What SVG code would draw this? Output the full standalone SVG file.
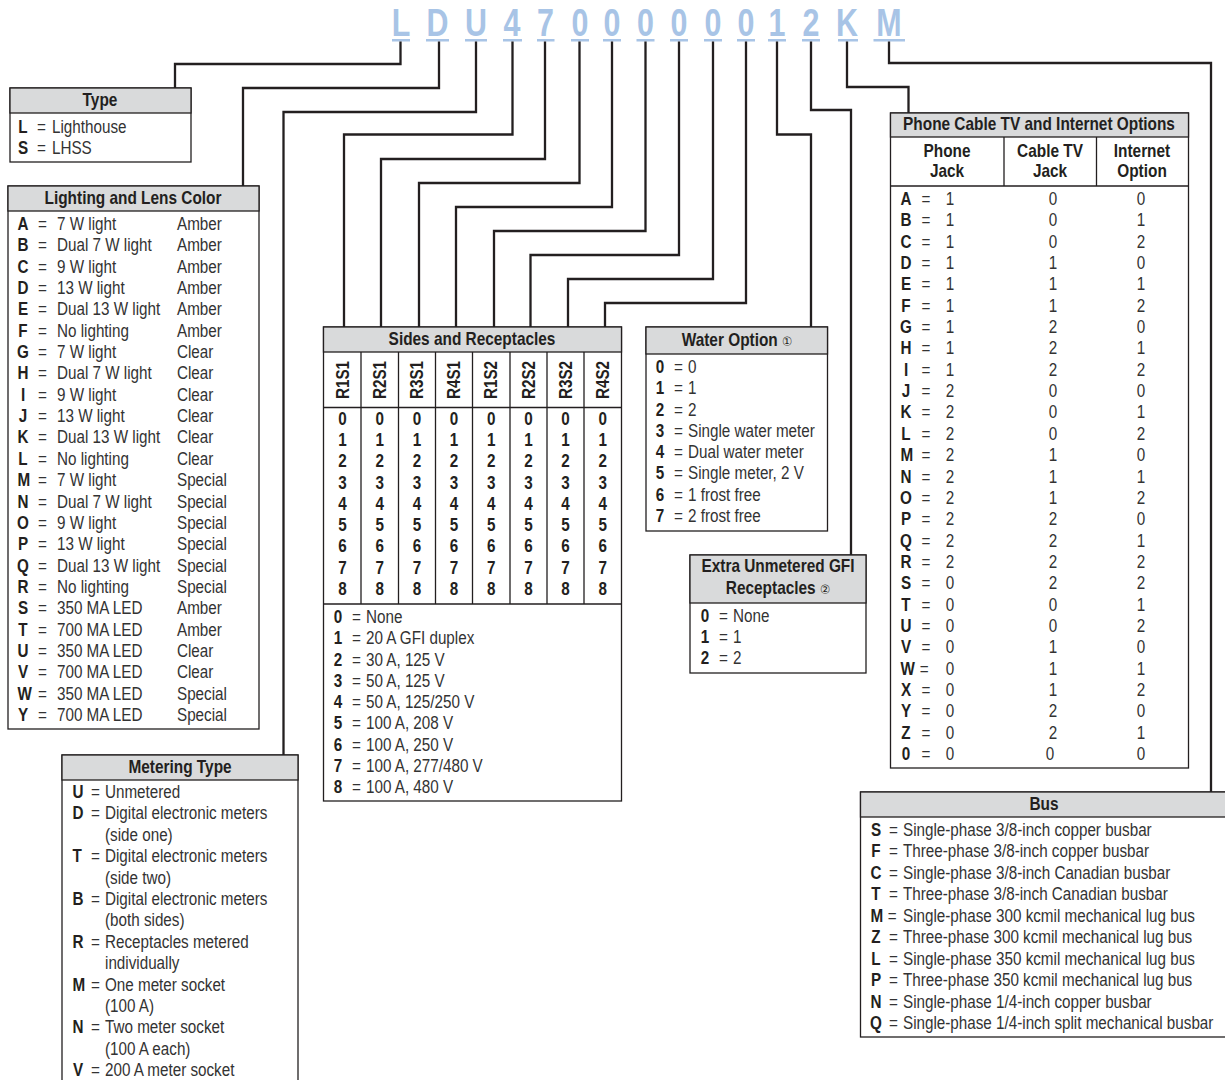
<svg xmlns="http://www.w3.org/2000/svg" width="1225" height="1080" viewBox="0 0 1225 1080">
<style>
text{font-family:"Liberation Sans",Arial,sans-serif;fill:#333;font-size:17.5px}
.b{font-weight:bold;fill:#231f20}
.h{font-weight:bold;fill:#231f20;text-anchor:middle}
.m{text-anchor:middle}
.box{fill:#fff;stroke:#231f20;stroke-width:1.3}
.hd{fill:#d9dadb;stroke:#231f20;stroke-width:1.3}
.ln{stroke:#231f20;stroke-width:1.3;fill:none}
.code{font-weight:bold;font-size:38px;fill:#a8c4e6;text-anchor:middle}
.ul{fill:#a8c4e6}
.cn{stroke:#231f20;stroke-width:2.3;fill:none}
.c{font-size:13px;font-weight:normal;font-family:"DejaVu Sans",sans-serif}
</style>

<g id="code">
<g transform="scale(0.8,1)">
<text class="code" y="36"><tspan x="501.25">L</tspan><tspan x="546.9">D</tspan><tspan x="595">U</tspan><tspan x="640">4</tspan><tspan x="681.9">7</tspan><tspan x="725">0</tspan><tspan x="765">0</tspan><tspan x="806.9">0</tspan><tspan x="848.75">0</tspan><tspan x="891.25">0</tspan><tspan x="932.5">0</tspan><tspan x="971.25">1</tspan><tspan x="1013.75">2</tspan><tspan x="1058.75">K</tspan><tspan x="1111.25">M</tspan></text>
</g>
<rect class="ul" x="392" y="39" width="18" height="2.5"/>
<rect class="ul" x="426" y="39" width="23" height="2.5"/>
<rect class="ul" x="465" y="39" width="22" height="2.5"/>
<rect class="ul" x="503" y="39" width="19" height="2.5"/>
<rect class="ul" x="537" y="39" width="17.5" height="2.5"/>
<rect class="ul" x="571" y="39" width="18" height="2.5"/>
<rect class="ul" x="603" y="39" width="18" height="2.5"/>
<rect class="ul" x="636.5" y="39" width="18" height="2.5"/>
<rect class="ul" x="670" y="39" width="18" height="2.5"/>
<rect class="ul" x="704" y="39" width="18" height="2.5"/>
<rect class="ul" x="737" y="39" width="18" height="2.5"/>
<rect class="ul" x="768" y="39" width="18" height="2.5"/>
<rect class="ul" x="802" y="39" width="18" height="2.5"/>
<rect class="ul" x="838" y="39" width="20" height="2.5"/>
<rect class="ul" x="873.5" y="39" width="31.5" height="2.5"/>
</g>

<g id="connectors">
<path class="cn" d="M400.5,41.5 V64 H175 V88"/>
<path class="cn" d="M439,41.5 V88 H243 V186"/>
<path class="cn" d="M476,41.5 V112 H283.5 V755"/>
<path class="cn" d="M512.5,41.5 V134.5 H344 V327"/>
<path class="cn" d="M545,41.5 V159 H381 V327"/>
<path class="cn" d="M579.5,41.5 V183 H419 V327"/>
<path class="cn" d="M612,41.5 V207 H456 V327"/>
<path class="cn" d="M645.5,41.5 V231 H494 V327"/>
<path class="cn" d="M679,41.5 V255 H530.5 V327"/>
<path class="cn" d="M713,41.5 V279 H568 V327"/>
<path class="cn" d="M746,41.5 V303 H605 V327"/>
<path class="cn" d="M777,41.5 V134.5 H811 V327"/>
<path class="cn" d="M811,41.5 V110 H851 V555"/>
<path class="cn" d="M847,41.5 V87 H908.5 V113"/>
<path class="cn" d="M889,41.5 V63 H1211 V792"/>
</g>

<g id="type">
<rect class="box" x="10" y="88" width="181" height="74"/>
<rect class="hd" x="10" y="88" width="181" height="25"/>
<g transform="translate(100,0) scale(0.88,1)"><text class="h" x="0" y="106">Type</text></g>
<g transform="translate(23,0) scale(0.87,1)"><text class="b m"><tspan x="0" y="133">L</tspan><tspan x="0" y="154">S</tspan></text></g>
<g transform="translate(37,0) scale(0.87,1)"><text><tspan x="0" y="133">=</tspan><tspan x="0" y="154">=</tspan></text></g>
<g transform="translate(52,0) scale(0.87,1)"><text><tspan x="0" y="133">Lighthouse</tspan><tspan x="0" y="154">LHSS</tspan></text></g>
</g>

<g id="lighting">
<rect class="box" x="8" y="186" width="251" height="543"/>
<rect class="hd" x="8" y="186" width="251" height="25"/>
<g transform="translate(133,0) scale(0.88,1)"><text class="h" x="0" y="204">Lighting and Lens Color</text></g>
<g transform="translate(23,0) scale(0.87,1)"><text class="b m"><tspan x="0" y="230">A</tspan><tspan x="0" y="251.4">B</tspan><tspan x="0" y="272.7">C</tspan><tspan x="0" y="294.1">D</tspan><tspan x="0" y="315.4">E</tspan><tspan x="0" y="336.8">F</tspan><tspan x="0" y="358.1">G</tspan><tspan x="0" y="379.5">H</tspan><tspan x="0" y="400.8">I</tspan><tspan x="0" y="422.2">J</tspan><tspan x="0" y="443.5">K</tspan><tspan x="0" y="464.9">L</tspan><tspan x="1" y="486.2">M</tspan><tspan x="0" y="507.6">N</tspan><tspan x="0" y="528.9">O</tspan><tspan x="0" y="550.3">P</tspan><tspan x="0" y="571.6">Q</tspan><tspan x="0" y="593">R</tspan><tspan x="0" y="614.3">S</tspan><tspan x="0" y="635.7">T</tspan><tspan x="0" y="657">U</tspan><tspan x="0" y="678.4">V</tspan><tspan x="2" y="699.7">W</tspan><tspan x="0" y="721.1">Y</tspan></text></g>
<g transform="translate(38,0) scale(0.87,1)"><text><tspan x="0" y="230">=</tspan><tspan x="0" y="251.4">=</tspan><tspan x="0" y="272.7">=</tspan><tspan x="0" y="294.1">=</tspan><tspan x="0" y="315.4">=</tspan><tspan x="0" y="336.8">=</tspan><tspan x="0" y="358.1">=</tspan><tspan x="0" y="379.5">=</tspan><tspan x="0" y="400.8">=</tspan><tspan x="0" y="422.2">=</tspan><tspan x="0" y="443.5">=</tspan><tspan x="0" y="464.9">=</tspan><tspan x="0" y="486.2">=</tspan><tspan x="0" y="507.6">=</tspan><tspan x="0" y="528.9">=</tspan><tspan x="0" y="550.3">=</tspan><tspan x="0" y="571.6">=</tspan><tspan x="0" y="593">=</tspan><tspan x="0" y="614.3">=</tspan><tspan x="0" y="635.7">=</tspan><tspan x="0" y="657">=</tspan><tspan x="0" y="678.4">=</tspan><tspan x="0" y="699.7">=</tspan><tspan x="0" y="721.1">=</tspan></text></g>
<g transform="translate(57,0) scale(0.87,1)"><text><tspan x="0" y="230">7 W light</tspan><tspan x="0" y="251.4">Dual 7 W light</tspan><tspan x="0" y="272.7">9 W light</tspan><tspan x="0" y="294.1">13 W light</tspan><tspan x="0" y="315.4">Dual 13 W light</tspan><tspan x="0" y="336.8">No lighting</tspan><tspan x="0" y="358.1">7 W light</tspan><tspan x="0" y="379.5">Dual 7 W light</tspan><tspan x="0" y="400.8">9 W light</tspan><tspan x="0" y="422.2">13 W light</tspan><tspan x="0" y="443.5">Dual 13 W light</tspan><tspan x="0" y="464.9">No lighting</tspan><tspan x="0" y="486.2">7 W light</tspan><tspan x="0" y="507.6">Dual 7 W light</tspan><tspan x="0" y="528.9">9 W light</tspan><tspan x="0" y="550.3">13 W light</tspan><tspan x="0" y="571.6">Dual 13 W light</tspan><tspan x="0" y="593">No lighting</tspan><tspan x="0" y="614.3">350 MA LED</tspan><tspan x="0" y="635.7">700 MA LED</tspan><tspan x="0" y="657">350 MA LED</tspan><tspan x="0" y="678.4">700 MA LED</tspan><tspan x="0" y="699.7">350 MA LED</tspan><tspan x="0" y="721.1">700 MA LED</tspan></text></g>
<g transform="translate(177,0) scale(0.87,1)"><text><tspan x="0" y="230">Amber</tspan><tspan x="0" y="251.4">Amber</tspan><tspan x="0" y="272.7">Amber</tspan><tspan x="0" y="294.1">Amber</tspan><tspan x="0" y="315.4">Amber</tspan><tspan x="0" y="336.8">Amber</tspan><tspan x="0" y="358.1">Clear</tspan><tspan x="0" y="379.5">Clear</tspan><tspan x="0" y="400.8">Clear</tspan><tspan x="0" y="422.2">Clear</tspan><tspan x="0" y="443.5">Clear</tspan><tspan x="0" y="464.9">Clear</tspan><tspan x="0" y="486.2">Special</tspan><tspan x="0" y="507.6">Special</tspan><tspan x="0" y="528.9">Special</tspan><tspan x="0" y="550.3">Special</tspan><tspan x="0" y="571.6">Special</tspan><tspan x="0" y="593">Special</tspan><tspan x="0" y="614.3">Amber</tspan><tspan x="0" y="635.7">Amber</tspan><tspan x="0" y="657">Clear</tspan><tspan x="0" y="678.4">Clear</tspan><tspan x="0" y="699.7">Special</tspan><tspan x="0" y="721.1">Special</tspan></text></g>
</g>

<g id="metering">
<rect class="box" x="62" y="755" width="236" height="340"/>
<rect class="hd" x="62" y="755" width="236" height="25"/>
<g transform="translate(180,0) scale(0.88,1)"><text class="h" x="0" y="773">Metering Type</text></g>
<g transform="translate(78,0) scale(0.87,1)"><text class="b m"><tspan x="0" y="798">U</tspan><tspan x="0" y="819.4">D</tspan><tspan x="-1" y="862.2">T</tspan><tspan x="0" y="905">B</tspan><tspan x="0" y="947.8">R</tspan><tspan x="1" y="990.6">M</tspan><tspan x="0" y="1033.4">N</tspan><tspan x="0" y="1076.2">V</tspan></text></g>
<g transform="translate(91,0) scale(0.87,1)"><text><tspan x="0" y="798">=</tspan><tspan x="0" y="819.4">=</tspan><tspan x="0" y="862.2">=</tspan><tspan x="0" y="905">=</tspan><tspan x="0" y="947.8">=</tspan><tspan x="0" y="990.6">=</tspan><tspan x="0" y="1033.4">=</tspan><tspan x="0" y="1076.2">=</tspan></text></g>
<g transform="translate(105,0) scale(0.87,1)"><text><tspan x="0" y="798">Unmetered</tspan><tspan x="0" y="819.4">Digital electronic meters</tspan><tspan x="0" y="840.8">(side one)</tspan><tspan x="0" y="862.2">Digital electronic meters</tspan><tspan x="0" y="883.6">(side two)</tspan><tspan x="0" y="905">Digital electronic meters</tspan><tspan x="0" y="926.4">(both sides)</tspan><tspan x="0" y="947.8">Receptacles metered</tspan><tspan x="0" y="969.2">individually</tspan><tspan x="0" y="990.6">One meter socket</tspan><tspan x="0" y="1012">(100 A)</tspan><tspan x="0" y="1033.4">Two meter socket</tspan><tspan x="0" y="1054.8">(100 A each)</tspan><tspan x="0" y="1076.2">200 A meter socket</tspan></text></g>
</g>

<g id="sides">
<rect class="box" x="323.5" y="327" width="298" height="474"/>
<rect class="hd" x="323.5" y="327" width="298" height="25"/>
<g transform="translate(472,0) scale(0.88,1)"><text class="h" x="0" y="345">Sides and Receptacles</text></g>
<path class="ln" d="M323.5,407.5 H621.5 M323.5,604 H621.5 M361,352 V604 M398.5,352 V604 M435.5,352 V604 M472.5,352 V604 M510,352 V604 M547,352 V604 M584,352 V604"/>
<text class="h" transform="translate(342.5,380) rotate(-90) scale(0.87,1)" x="0" y="6">R1S1</text>
<text class="h" transform="translate(379.8,380) rotate(-90) scale(0.87,1)" x="0" y="6">R2S1</text>
<text class="h" transform="translate(417,380) rotate(-90) scale(0.87,1)" x="0" y="6">R3S1</text>
<text class="h" transform="translate(454,380) rotate(-90) scale(0.87,1)" x="0" y="6">R4S1</text>
<text class="h" transform="translate(491.2,380) rotate(-90) scale(0.87,1)" x="0" y="6">R1S2</text>
<text class="h" transform="translate(528.5,380) rotate(-90) scale(0.87,1)" x="0" y="6">R2S2</text>
<text class="h" transform="translate(565.5,380) rotate(-90) scale(0.87,1)" x="0" y="6">R3S2</text>
<text class="h" transform="translate(602.8,380) rotate(-90) scale(0.87,1)" x="0" y="6">R4S2</text>
<g transform="translate(342.5,0) scale(0.87,1)"><text class="b m"><tspan x="0" y="425">0</tspan><tspan x="0" y="446.3">1</tspan><tspan x="0" y="467.5">2</tspan><tspan x="0" y="488.8">3</tspan><tspan x="0" y="510">4</tspan><tspan x="0" y="531.3">5</tspan><tspan x="0" y="552.5">6</tspan><tspan x="0" y="573.8">7</tspan><tspan x="0" y="595">8</tspan></text></g>
<g transform="translate(379.8,0) scale(0.87,1)"><text class="b m"><tspan x="0" y="425">0</tspan><tspan x="0" y="446.3">1</tspan><tspan x="0" y="467.5">2</tspan><tspan x="0" y="488.8">3</tspan><tspan x="0" y="510">4</tspan><tspan x="0" y="531.3">5</tspan><tspan x="0" y="552.5">6</tspan><tspan x="0" y="573.8">7</tspan><tspan x="0" y="595">8</tspan></text></g>
<g transform="translate(417,0) scale(0.87,1)"><text class="b m"><tspan x="0" y="425">0</tspan><tspan x="0" y="446.3">1</tspan><tspan x="0" y="467.5">2</tspan><tspan x="0" y="488.8">3</tspan><tspan x="0" y="510">4</tspan><tspan x="0" y="531.3">5</tspan><tspan x="0" y="552.5">6</tspan><tspan x="0" y="573.8">7</tspan><tspan x="0" y="595">8</tspan></text></g>
<g transform="translate(454,0) scale(0.87,1)"><text class="b m"><tspan x="0" y="425">0</tspan><tspan x="0" y="446.3">1</tspan><tspan x="0" y="467.5">2</tspan><tspan x="0" y="488.8">3</tspan><tspan x="0" y="510">4</tspan><tspan x="0" y="531.3">5</tspan><tspan x="0" y="552.5">6</tspan><tspan x="0" y="573.8">7</tspan><tspan x="0" y="595">8</tspan></text></g>
<g transform="translate(491.2,0) scale(0.87,1)"><text class="b m"><tspan x="0" y="425">0</tspan><tspan x="0" y="446.3">1</tspan><tspan x="0" y="467.5">2</tspan><tspan x="0" y="488.8">3</tspan><tspan x="0" y="510">4</tspan><tspan x="0" y="531.3">5</tspan><tspan x="0" y="552.5">6</tspan><tspan x="0" y="573.8">7</tspan><tspan x="0" y="595">8</tspan></text></g>
<g transform="translate(528.5,0) scale(0.87,1)"><text class="b m"><tspan x="0" y="425">0</tspan><tspan x="0" y="446.3">1</tspan><tspan x="0" y="467.5">2</tspan><tspan x="0" y="488.8">3</tspan><tspan x="0" y="510">4</tspan><tspan x="0" y="531.3">5</tspan><tspan x="0" y="552.5">6</tspan><tspan x="0" y="573.8">7</tspan><tspan x="0" y="595">8</tspan></text></g>
<g transform="translate(565.5,0) scale(0.87,1)"><text class="b m"><tspan x="0" y="425">0</tspan><tspan x="0" y="446.3">1</tspan><tspan x="0" y="467.5">2</tspan><tspan x="0" y="488.8">3</tspan><tspan x="0" y="510">4</tspan><tspan x="0" y="531.3">5</tspan><tspan x="0" y="552.5">6</tspan><tspan x="0" y="573.8">7</tspan><tspan x="0" y="595">8</tspan></text></g>
<g transform="translate(602.8,0) scale(0.87,1)"><text class="b m"><tspan x="0" y="425">0</tspan><tspan x="0" y="446.3">1</tspan><tspan x="0" y="467.5">2</tspan><tspan x="0" y="488.8">3</tspan><tspan x="0" y="510">4</tspan><tspan x="0" y="531.3">5</tspan><tspan x="0" y="552.5">6</tspan><tspan x="0" y="573.8">7</tspan><tspan x="0" y="595">8</tspan></text></g>
<g transform="translate(338,0) scale(0.87,1)"><text class="b m"><tspan x="0" y="623">0</tspan><tspan x="0" y="644.3">1</tspan><tspan x="0" y="665.6">2</tspan><tspan x="0" y="686.9">3</tspan><tspan x="0" y="708.2">4</tspan><tspan x="0" y="729.5">5</tspan><tspan x="0" y="750.8">6</tspan><tspan x="0" y="772.1">7</tspan><tspan x="0" y="793.4">8</tspan></text></g>
<g transform="translate(352,0) scale(0.87,1)"><text><tspan x="0" y="623">=</tspan><tspan x="0" y="644.3">=</tspan><tspan x="0" y="665.6">=</tspan><tspan x="0" y="686.9">=</tspan><tspan x="0" y="708.2">=</tspan><tspan x="0" y="729.5">=</tspan><tspan x="0" y="750.8">=</tspan><tspan x="0" y="772.1">=</tspan><tspan x="0" y="793.4">=</tspan></text></g>
<g transform="translate(366,0) scale(0.87,1)"><text><tspan x="0" y="623">None</tspan><tspan x="0" y="644.3">20 A GFI duplex</tspan><tspan x="0" y="665.6">30 A, 125 V</tspan><tspan x="0" y="686.9">50 A, 125 V</tspan><tspan x="0" y="708.2">50 A, 125/250 V</tspan><tspan x="0" y="729.5">100 A, 208 V</tspan><tspan x="0" y="750.8">100 A, 250 V</tspan><tspan x="0" y="772.1">100 A, 277/480 V</tspan><tspan x="0" y="793.4">100 A, 480 V</tspan></text></g>
</g>

<g id="water">
<rect class="box" x="646" y="327" width="181.5" height="204"/>
<rect class="hd" x="646" y="327" width="181.5" height="27"/>
<g transform="translate(737,0) scale(0.88,1)"><text class="h" x="0" y="346">Water Option <tspan class="c">①</tspan></text></g>
<g transform="translate(660,0) scale(0.87,1)"><text class="b m"><tspan x="0" y="373">0</tspan><tspan x="0" y="394.3">1</tspan><tspan x="0" y="415.6">2</tspan><tspan x="0" y="436.9">3</tspan><tspan x="0" y="458.2">4</tspan><tspan x="0" y="479.5">5</tspan><tspan x="0" y="500.8">6</tspan><tspan x="0" y="522.1">7</tspan></text></g>
<g transform="translate(674,0) scale(0.87,1)"><text><tspan x="0" y="373">=</tspan><tspan x="0" y="394.3">=</tspan><tspan x="0" y="415.6">=</tspan><tspan x="0" y="436.9">=</tspan><tspan x="0" y="458.2">=</tspan><tspan x="0" y="479.5">=</tspan><tspan x="0" y="500.8">=</tspan><tspan x="0" y="522.1">=</tspan></text></g>
<g transform="translate(688,0) scale(0.87,1)"><text><tspan x="0" y="373">0</tspan><tspan x="0" y="394.3">1</tspan><tspan x="0" y="415.6">2</tspan><tspan x="0" y="436.9">Single water meter</tspan><tspan x="0" y="458.2">Dual water meter</tspan><tspan x="0" y="479.5">Single meter, 2 V</tspan><tspan x="0" y="500.8">1 frost free</tspan><tspan x="0" y="522.1">2 frost free</tspan></text></g>
</g>

<g id="gfi">
<rect class="box" x="690" y="555" width="176" height="118"/>
<rect class="hd" x="690" y="555" width="176" height="48"/>
<g transform="translate(778,0) scale(0.88,1)"><text class="h" x="0" y="572">Extra Unmetered GFI</text><text class="h" x="0" y="594">Receptacles <tspan class="c">②</tspan></text></g>
<g transform="translate(705,0) scale(0.87,1)"><text class="b m"><tspan x="0" y="622">0</tspan><tspan x="0" y="643">1</tspan><tspan x="0" y="664">2</tspan></text></g>
<g transform="translate(719,0) scale(0.87,1)"><text><tspan x="0" y="622">=</tspan><tspan x="0" y="643">=</tspan><tspan x="0" y="664">=</tspan></text></g>
<g transform="translate(733,0) scale(0.87,1)"><text><tspan x="0" y="622">None</tspan><tspan x="0" y="643">1</tspan><tspan x="0" y="664">2</tspan></text></g>
</g>

<g id="phone">
<rect class="box" x="890.5" y="113" width="298" height="655"/>
<rect class="hd" x="890.5" y="113" width="298" height="24"/>
<g transform="translate(1039,0) scale(0.88,1)"><text class="h" x="0" y="130">Phone Cable TV and Internet Options</text></g>
<path class="ln" d="M890.5,186 H1188.5 M1004,137 V186 M1096.5,137 V186"/>
<g transform="translate(947,0) scale(0.88,1)"><text class="h" x="0" y="157">Phone</text><text class="h" x="0" y="177">Jack</text></g>
<g transform="translate(1050,0) scale(0.88,1)"><text class="h" x="0" y="157">Cable TV</text><text class="h" x="0" y="177">Jack</text></g>
<g transform="translate(1142,0) scale(0.88,1)"><text class="h" x="0" y="157">Internet</text><text class="h" x="0" y="177">Option</text></g>
<g transform="translate(906,0) scale(0.87,1)"><text class="b m"><tspan x="0" y="205">A</tspan><tspan x="0" y="226.4">B</tspan><tspan x="0" y="247.7">C</tspan><tspan x="0" y="269.1">D</tspan><tspan x="0" y="290.4">E</tspan><tspan x="0" y="311.8">F</tspan><tspan x="0" y="333.1">G</tspan><tspan x="0" y="354.5">H</tspan><tspan x="0" y="375.8">I</tspan><tspan x="0" y="397.2">J</tspan><tspan x="0" y="418.5">K</tspan><tspan x="0" y="439.9">L</tspan><tspan x="1" y="461.2">M</tspan><tspan x="0" y="482.6">N</tspan><tspan x="0" y="503.9">O</tspan><tspan x="0" y="525.3">P</tspan><tspan x="0" y="546.6">Q</tspan><tspan x="0" y="568">R</tspan><tspan x="0" y="589.3">S</tspan><tspan x="0" y="610.7">T</tspan><tspan x="0" y="632">U</tspan><tspan x="0" y="653.4">V</tspan><tspan x="2" y="674.7">W</tspan><tspan x="0" y="696.1">X</tspan><tspan x="0" y="717.4">Y</tspan><tspan x="0" y="738.8">Z</tspan><tspan x="0" y="760.1">0</tspan></text></g>
<g transform="translate(926,0) scale(0.87,1)"><text class="m"><tspan x="0" y="205">=</tspan><tspan x="0" y="226.4">=</tspan><tspan x="0" y="247.7">=</tspan><tspan x="0" y="269.1">=</tspan><tspan x="0" y="290.4">=</tspan><tspan x="0" y="311.8">=</tspan><tspan x="0" y="333.1">=</tspan><tspan x="0" y="354.5">=</tspan><tspan x="0" y="375.8">=</tspan><tspan x="0" y="397.2">=</tspan><tspan x="0" y="418.5">=</tspan><tspan x="0" y="439.9">=</tspan><tspan x="0" y="461.2">=</tspan><tspan x="0" y="482.6">=</tspan><tspan x="0" y="503.9">=</tspan><tspan x="0" y="525.3">=</tspan><tspan x="0" y="546.6">=</tspan><tspan x="0" y="568">=</tspan><tspan x="0" y="589.3">=</tspan><tspan x="0" y="610.7">=</tspan><tspan x="0" y="632">=</tspan><tspan x="0" y="653.4">=</tspan><tspan x="-2" y="674.7">=</tspan><tspan x="0" y="696.1">=</tspan><tspan x="0" y="717.4">=</tspan><tspan x="0" y="738.8">=</tspan><tspan x="0" y="760.1">=</tspan></text></g>
<g transform="translate(950,0) scale(0.87,1)"><text class="m"><tspan x="0" y="205">1</tspan><tspan x="0" y="226.4">1</tspan><tspan x="0" y="247.7">1</tspan><tspan x="0" y="269.1">1</tspan><tspan x="0" y="290.4">1</tspan><tspan x="0" y="311.8">1</tspan><tspan x="0" y="333.1">1</tspan><tspan x="0" y="354.5">1</tspan><tspan x="0" y="375.8">1</tspan><tspan x="0" y="397.2">2</tspan><tspan x="0" y="418.5">2</tspan><tspan x="0" y="439.9">2</tspan><tspan x="0" y="461.2">2</tspan><tspan x="0" y="482.6">2</tspan><tspan x="0" y="503.9">2</tspan><tspan x="0" y="525.3">2</tspan><tspan x="0" y="546.6">2</tspan><tspan x="0" y="568">2</tspan><tspan x="0" y="589.3">0</tspan><tspan x="0" y="610.7">0</tspan><tspan x="0" y="632">0</tspan><tspan x="0" y="653.4">0</tspan><tspan x="0" y="674.7">0</tspan><tspan x="0" y="696.1">0</tspan><tspan x="0" y="717.4">0</tspan><tspan x="0" y="738.8">0</tspan><tspan x="0" y="760.1">0</tspan></text></g>
<g transform="translate(1053,0) scale(0.87,1)"><text class="m"><tspan x="0" y="205">0</tspan><tspan x="0" y="226.4">0</tspan><tspan x="0" y="247.7">0</tspan><tspan x="0" y="269.1">1</tspan><tspan x="0" y="290.4">1</tspan><tspan x="0" y="311.8">1</tspan><tspan x="0" y="333.1">2</tspan><tspan x="0" y="354.5">2</tspan><tspan x="0" y="375.8">2</tspan><tspan x="0" y="397.2">0</tspan><tspan x="0" y="418.5">0</tspan><tspan x="0" y="439.9">0</tspan><tspan x="0" y="461.2">1</tspan><tspan x="0" y="482.6">1</tspan><tspan x="0" y="503.9">1</tspan><tspan x="0" y="525.3">2</tspan><tspan x="0" y="546.6">2</tspan><tspan x="0" y="568">2</tspan><tspan x="0" y="589.3">2</tspan><tspan x="0" y="610.7">0</tspan><tspan x="0" y="632">0</tspan><tspan x="0" y="653.4">1</tspan><tspan x="0" y="674.7">1</tspan><tspan x="0" y="696.1">1</tspan><tspan x="0" y="717.4">2</tspan><tspan x="0" y="738.8">2</tspan><tspan x="-3.5" y="760.1">0</tspan></text></g>
<g transform="translate(1141,0) scale(0.87,1)"><text class="m"><tspan x="0" y="205">0</tspan><tspan x="0" y="226.4">1</tspan><tspan x="0" y="247.7">2</tspan><tspan x="0" y="269.1">0</tspan><tspan x="0" y="290.4">1</tspan><tspan x="0" y="311.8">2</tspan><tspan x="0" y="333.1">0</tspan><tspan x="0" y="354.5">1</tspan><tspan x="0" y="375.8">2</tspan><tspan x="0" y="397.2">0</tspan><tspan x="0" y="418.5">1</tspan><tspan x="0" y="439.9">2</tspan><tspan x="0" y="461.2">0</tspan><tspan x="0" y="482.6">1</tspan><tspan x="0" y="503.9">2</tspan><tspan x="0" y="525.3">0</tspan><tspan x="0" y="546.6">1</tspan><tspan x="0" y="568">2</tspan><tspan x="0" y="589.3">2</tspan><tspan x="0" y="610.7">1</tspan><tspan x="0" y="632">2</tspan><tspan x="0" y="653.4">0</tspan><tspan x="0" y="674.7">1</tspan><tspan x="0" y="696.1">2</tspan><tspan x="0" y="717.4">0</tspan><tspan x="0" y="738.8">1</tspan><tspan x="0" y="760.1">0</tspan></text></g>
</g>

<g id="bus">
<rect class="box" x="860.5" y="792" width="400" height="245"/>
<rect class="hd" x="860.5" y="792" width="400" height="25"/>
<g transform="translate(1044,0) scale(0.88,1)"><text class="h" x="0" y="810">Bus</text></g>
<g transform="translate(876,0) scale(0.87,1)"><text class="b m"><tspan x="0" y="836">S</tspan><tspan x="0" y="857.5">F</tspan><tspan x="0" y="878.9">C</tspan><tspan x="0" y="900.4">T</tspan><tspan x="1" y="921.8">M</tspan><tspan x="0" y="943.3">Z</tspan><tspan x="0" y="964.7">L</tspan><tspan x="0" y="986.2">P</tspan><tspan x="0" y="1007.6">N</tspan><tspan x="0" y="1029.1">Q</tspan></text></g>
<g transform="translate(889,0) scale(0.87,1)"><text><tspan x="0" y="836">=</tspan><tspan x="0" y="857.5">=</tspan><tspan x="0" y="878.9">=</tspan><tspan x="0" y="900.4">=</tspan><tspan x="-1.5" y="921.8">=</tspan><tspan x="0" y="943.3">=</tspan><tspan x="0" y="964.7">=</tspan><tspan x="0" y="986.2">=</tspan><tspan x="0" y="1007.6">=</tspan><tspan x="0" y="1029.1">=</tspan></text></g>
<g transform="translate(903,0) scale(0.87,1)"><text><tspan x="0" y="836">Single-phase 3/8-inch copper busbar</tspan><tspan x="0" y="857.5">Three-phase 3/8-inch copper busbar</tspan><tspan x="0" y="878.9">Single-phase 3/8-inch Canadian busbar</tspan><tspan x="0" y="900.4">Three-phase 3/8-inch Canadian busbar</tspan><tspan x="0" y="921.8">Single-phase 300 kcmil mechanical lug bus</tspan><tspan x="0" y="943.3">Three-phase 300 kcmil mechanical lug bus</tspan><tspan x="0" y="964.7">Single-phase 350 kcmil mechanical lug bus</tspan><tspan x="0" y="986.2">Three-phase 350 kcmil mechanical lug bus</tspan><tspan x="0" y="1007.6">Single-phase 1/4-inch copper busbar</tspan><tspan x="0" y="1029.1">Single-phase 1/4-inch split mechanical busbar</tspan></text></g>
</g>
</svg>
